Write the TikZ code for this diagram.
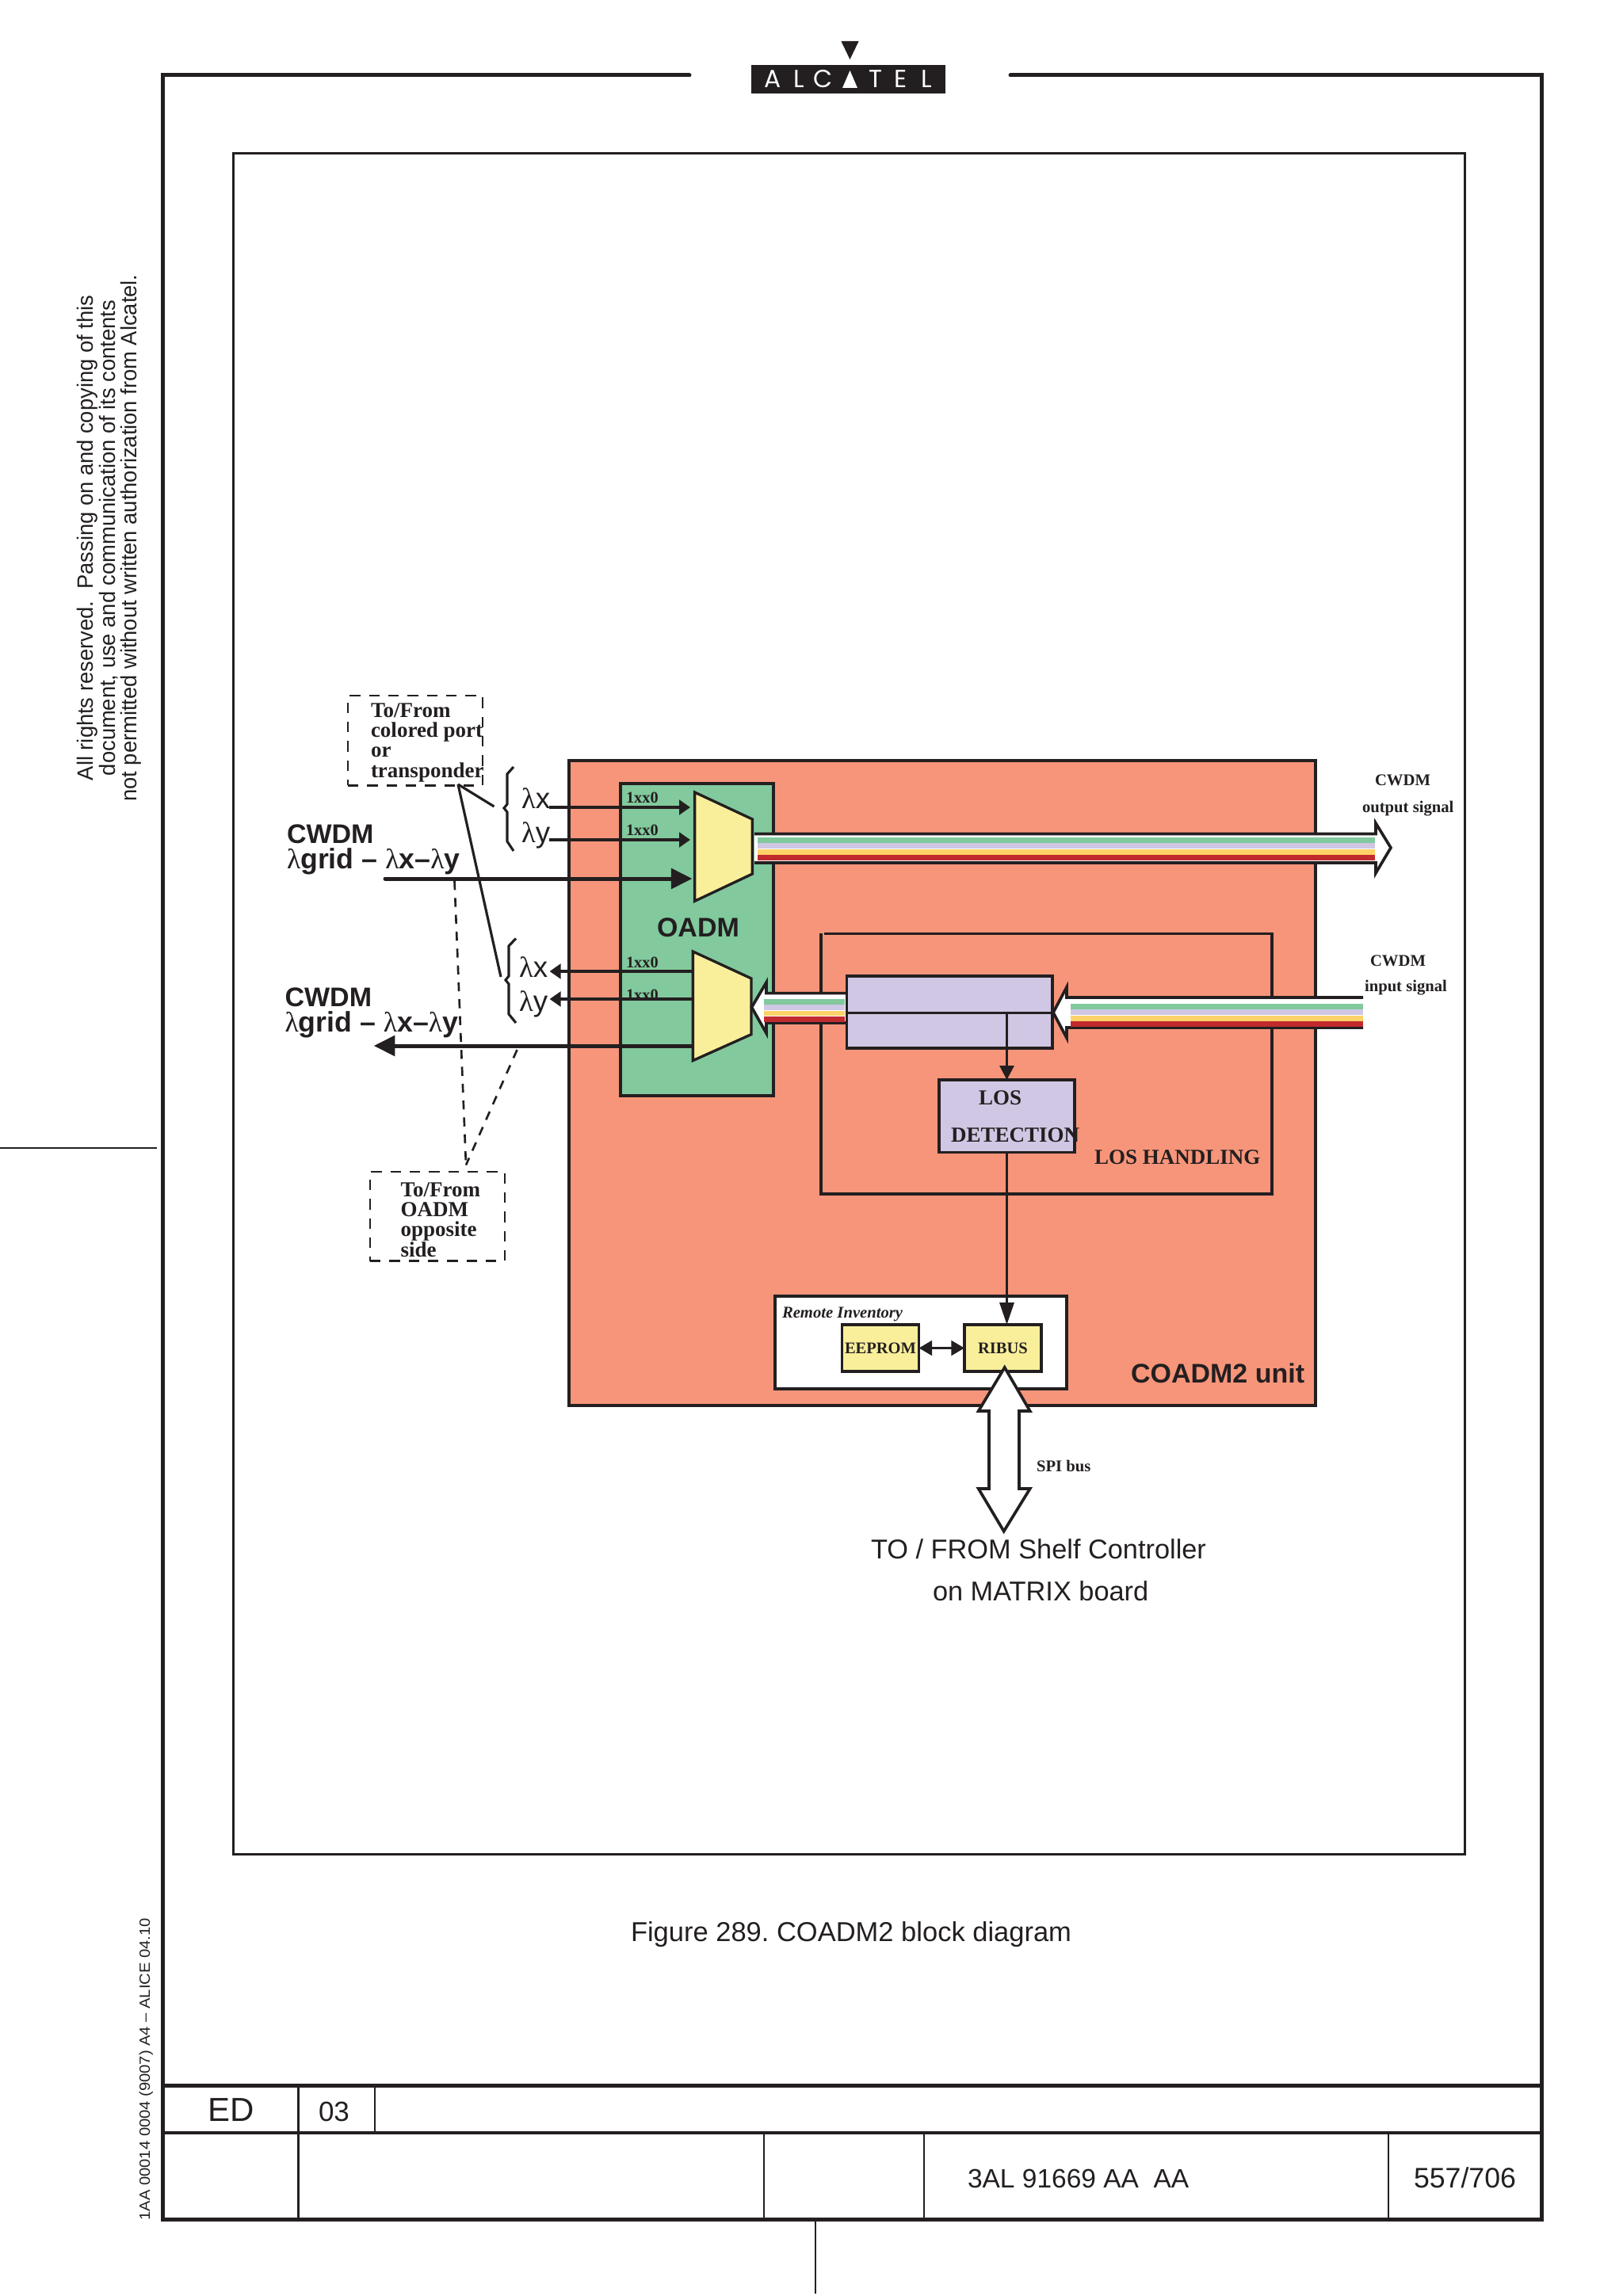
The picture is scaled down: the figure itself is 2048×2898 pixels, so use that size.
\documentclass[tikz,border=0pt]{standalone}
\usepackage{fontspec}
\setmainfont{Liberation Sans}
\newfontfamily\timesf{Liberation Serif}
\newfontfamily\logof{Poppins}
\usetikzlibrary{arrows.meta}
\definecolor{ink}{RGB}{35,31,32}
\definecolor{unitbg}{RGB}{247,149,122}
\definecolor{oadmbg}{RGB}{130,201,157}
\definecolor{muxbg}{RGB}{249,239,155}
\definecolor{losbg}{RGB}{207,199,227}
\definecolor{bandyell}{RGB}{253,210,104}
\definecolor{bandred}{RGB}{193,43,46}
\newcommand{\px}{0.3pt}
\newcommand{\sz}[1]{\fontsize{#1}{#1}\selectfont}
\newcommand{\lam}{{\timesf\mdseries λ}}
\newcommand{\bands}[3]{%
  \foreach \c [count=\i from 0] in {oadmbg,losbg,bandyell,bandred}
    \fill[\c] (#1,{#3+\i*7.4}) rectangle (#2,{#3+\i*7.4+6.8});}
\tikzset{
  block/.style={draw=ink,line width=1pt,inner sep=0,outer sep=0},
  txt/.style={inner sep=0,outer sep=0,anchor=base west,text=ink,font=\sz{10.2}},
  tms/.style={txt,font=\timesf\bfseries\fontsize{8.1}{7.6}\selectfont},
  small/.style={txt,font=\timesf\bfseries\sz{6.2}},
  dashbox/.style={draw=ink,line width=.8pt,dash pattern=on 4pt off 3.3pt},
  dashline/.style={draw=ink,line width=.8pt,dash pattern=on 3.4pt off 3pt},
  wire/.style={draw=ink,line width=.95pt},
  thinarr/.style={wire,-{Triangle[length=4.2pt,width=5.6pt]}},
  fatarr/.style={draw=ink,line width=1.5pt,-{Triangle[length=8pt,width=7.6pt]}},
  ribbon/.style={draw=ink,fill=white,line width=1.1pt,miter limit=8},
}
\begin{document}
\begin{tikzpicture}[x=\px,y=-\px]
    \useasboundingbox (0,0) rectangle (2048,2898);

    % Page frame
    \draw[ink,line width=1.5pt,line cap=round] (870,95) -- (205,95) -- (205,2801) -- (1945,2801) -- (1945,95) -- (1275,95);
    \draw[ink,line width=.9pt] (294,194) rectangle (1848,2340);
    \draw[ink,line width=1.5pt] (205,2632) -- (1945,2632);
    \draw[ink,line width=1.2pt] (205,2692) -- (1945,2692);
    \draw[ink,line width=.9pt] (376.5,2632) -- (376.5,2801);
    \draw[ink,line width=.6pt] (473,2632) -- (473,2692);
    \foreach \xp in {964,1166,1752}
        \draw[ink,line width=.6pt] (\xp,2692) -- (\xp,2801);
    \draw[ink,line width=.6pt] (1029,2801) -- (1029,2895);
    \draw[ink,line width=.6pt] (0,1449) -- (198,1449);

    % Logo
    \fill[ink] (1061.4,52) -- (1083.6,52) -- (1072.5,75) -- cycle;
    \fill[ink] (948,82) rectangle (1193,118);
    \fill[white] (1063,111) -- (1082,111) -- (1072.5,89) -- cycle;
    \foreach \l/\xp in {A/975,L/1008,C/1039,T/1105,E/1137,L/1169}
        \node[inner sep=0,anchor=base,text=white,font=\logof\sz{9.4}] (logo\xp) at (\xp,111) {\l};

    % Margin texts
    \node[rotate=90,xscale=.976,align=center,inner sep=0,anchor=base,text=ink,font=\fontsize{8.4}{8.3}\selectfont] (rights) at (172.7,679)
        {All rights reserved.\ \ Passing on and copying of this\\ document, use and communication of its contents\\ not permitted without written authorization from Alcatel.};
    \node[rotate=90,xscale=1.08,inner sep=0,anchor=base west,text=ink,font=\sz{5.6}] (formref) at (189,2803) {1AA 00014 0004 (9007) A4 -- ALICE 04.10};

    % Unit and inner boxes
    \node[block,fill=unitbg,minimum width=942*\px,minimum height=814*\px] (unit) at (1189,1367) {};
    \node[block,fill=oadmbg,minimum width=193*\px,minimum height=394*\px] (oadm) at (879.5,1186) {};
    \draw[wire] (1040,1178.6) -- (1605,1178.6) -- (1605,1507) -- (1036,1507) -- (1036,1178);

    % Dashed links
    \coordinate (oppo) at (588,1470.5);
    \draw[dashline] (573.5,1112) -- (oppo);
    \draw[dashline] (652.5,1325) -- (oppo);
    \node[dashbox,minimum width=170*\px,minimum height=113.5*\px,inner sep=0] (colored) at (524,934.7) {};
    \node[dashbox,minimum width=170*\px,minimum height=112.5*\px,inner sep=0] (opposite) at (552,1535.3) {};
    \node[tms,align=left] (coloredtxt) at (468,981) {To/From\\ colored port\\ or\\ transponder};
    \node[tms,align=left] (oppositetxt) at (505.6,1586) {To/From\\ OADM\\ opposite\\ side};

    % Braces
    \draw[wire] (648,968) -- (640,977) -- (640,1015) -- (636,1020) -- (640,1025) -- (640,1062) -- (648,1074);
    \draw[wire] (651,1184.5) -- (642,1194) -- (642,1232) -- (638,1237) -- (642,1242) -- (642,1280) -- (651,1291);
    \coordinate (cpfoot) at (578,990);
    \draw[wire] (cpfoot) -- (623.5,1018);
    \draw[wire] (cpfoot) -- (632,1233);

    % Muxes
    \draw[ink,line width=1pt,fill=muxbg] (876.6,1000) -- (949.4,1034) -- (949.4,1103) -- (876.6,1137.4) -- cycle;
    \draw[ink,line width=1pt,fill=muxbg] (874.4,1201) -- (948,1235) -- (948,1305.6) -- (874.4,1338.6) -- cycle;
    \node[txt,font=\bfseries\sz{10.2}] (oadmtxt) at (829,1182) {OADM};
    \foreach \yp/\nm in {1013/a,1054/b,1221/c,1262/d}
        \node[tms,font=\timesf\bfseries\sz{6.1}] (xx\nm) at (790,\yp) {1xx0};

    % Wavelength labels
    \node[txt,font=\sz{11}] (lxin) at (658,1020.6) {\lam x};
    \node[txt,font=\sz{11}] (lyin) at (658,1063) {\lam y};
    \node[txt,font=\sz{11}] (lxout) at (655,1233) {\lam x};
    \node[txt,font=\sz{11}] (lyout) at (655,1276.6) {\lam y};

    % Wavelength arrows
    \coordinate (muxa) at (871,1019);
    \coordinate (muxb) at (871,1060);
    \draw[thinarr] (692.7,1019) -- (muxa);
    \draw[thinarr] (692.7,1060) -- (muxb);
    \draw[thinarr] (874.4,1226) -- (693.6,1226);
    \draw[thinarr] (874.4,1261) -- (693.6,1261);

    % Main signal arrows
    \node[txt,font=\bfseries\sz{10.2}] (cwdmin) at (362,1064) {CWDM};
    \node[txt,font=\bfseries\sz{10.7}] (gridin) at (362,1096) {\lam{}grid -- \lam{}x--\lam{}y};
    \node[txt,font=\bfseries\sz{10.2}] (cwdmout) at (359.6,1270.7) {CWDM};
    \node[txt,font=\bfseries\sz{10.7}] (gridout) at (359.6,1302) {\lam{}grid -- \lam{}x--\lam{}y};
    \draw[fatarr,line cap=round] (486,1109) -- (873.5,1109);
    \draw[fatarr] (874.4,1320) -- (471.7,1320);

    % Output ribbon
    \draw[ribbon] (952,1052.5) -- (1736,1052.5) -- (1736,1039) -- (1755,1070) -- (1736,1102) -- (1736,1089) -- (952,1089);
    \bands{956}{1735}{1057}
    % Input ribbon
    \draw[ribbon] (1720,1259) -- (1346,1259) -- (1346,1246) -- (1329,1278) -- (1346,1310) -- (1346,1297) -- (1720,1297);
    \bands{1351}{1720}{1267}
    % Ribbon to mux
    \draw[ribbon] (1068.5,1253.6) -- (967,1253.6) -- (967,1240) -- (948.5,1271.4) -- (967,1304) -- (967,1291) -- (1068.5,1291);
    \bands{963.6}{1065.5}{1260.7}

    % Splitter and LOS
    \node[block,fill=losbg,minimum width=259.5*\px,minimum height=91*\px] (split) at (1198.2,1277.5) {};
    \draw[wire,line width=1pt] (1068.5,1278.6) -- (1328,1278.6);
    \node[block,fill=losbg,minimum width=171*\px,minimum height=91.6*\px] (los) at (1270.5,1408.8) {};
    \node[tms] (lostxt) at (1235,1394) {LOS};
    \node[tms] (dettxt) at (1200,1441) {DETECTION};
    \node[tms] (handtxt) at (1381,1469) {LOS HANDLING};
    \coordinate (tap) at (1270.5,1278.6);
    \draw[wire,-{Triangle[length=5.4pt,width=5.4pt]}] (tap) -- (los.north);

    % Remote inventory
    \node[block,fill=white,minimum width=368*\px,minimum height=117*\px] (remote) at (1162,1694.5) {};
    \node[small,font=\timesf\bfseries\itshape\sz{6.2}] (remotetxt) at (987,1663) {Remote Inventory};
    \node[block,fill=muxbg,minimum width=97*\px,minimum height=59*\px,font=\timesf\bfseries\sz{6.15},text=ink] (eeprom) at (1111,1701.5) {EEPROM};
    \node[block,fill=muxbg,minimum width=97*\px,minimum height=59*\px,font=\timesf\bfseries\sz{6.15},text=ink] (ribus) at (1265.5,1701.5) {RIBUS};
    \draw[wire,{Triangle[length=5pt,width=5.6pt]}-{Triangle[length=5pt,width=5.6pt]}] (eeprom) -- (ribus);
    \draw[wire,-{Triangle[length=8.4pt,width=5.4pt]}] (los.south) -- (ribus.north -| los.south);

    % SPI bus
    \draw[ribbon] (1267.7,1726) -- (1299.7,1781) -- (1286,1781) -- (1286,1879) -- (1299.7,1879) -- (1266.7,1932.7) -- (1234.7,1879) -- (1248,1879) -- (1248,1781) -- (1234.7,1781) -- cycle;
    \node[small] (spi) at (1308,1857) {SPI bus};
    \node[txt,font=\bfseries\sz{10.2}] (unittxt) at (1427,1745) {COADM2 unit};
    \node[small] (cwdmo) at (1735,991) {CWDM};
    \node[small] (sigo) at (1719,1025) {output signal};
    \node[small] (cwdmi) at (1729,1219.6) {CWDM};
    \node[small] (sigi) at (1722,1251) {input signal};
    \node[txt,font=\sz{10.3}] (ctrl) at (1099,1967) {TO / FROM Shelf Controller};
    \node[txt,font=\sz{10.3}] (matrix) at (1177,2020) {on MATRIX board};

    % Caption and title block
    \node[txt,font=\sz{10.35}\frenchspacing] (caption) at (796,2450) {Figure 289. COADM2 block diagram};
    \node[txt,font=\sz{12.6}] (ed) at (262,2677) {ED};
    \node[txt,font=\sz{10.5}] (rev) at (402,2677) {03};
    \node[txt,font=\sz{10.05}] (docnum) at (1221,2761) {3AL 91669 AA\ \ AA};
    \node[txt,font=\sz{10.7}] (page) at (1784,2761) {557/706};
\end{tikzpicture}
\end{document}
